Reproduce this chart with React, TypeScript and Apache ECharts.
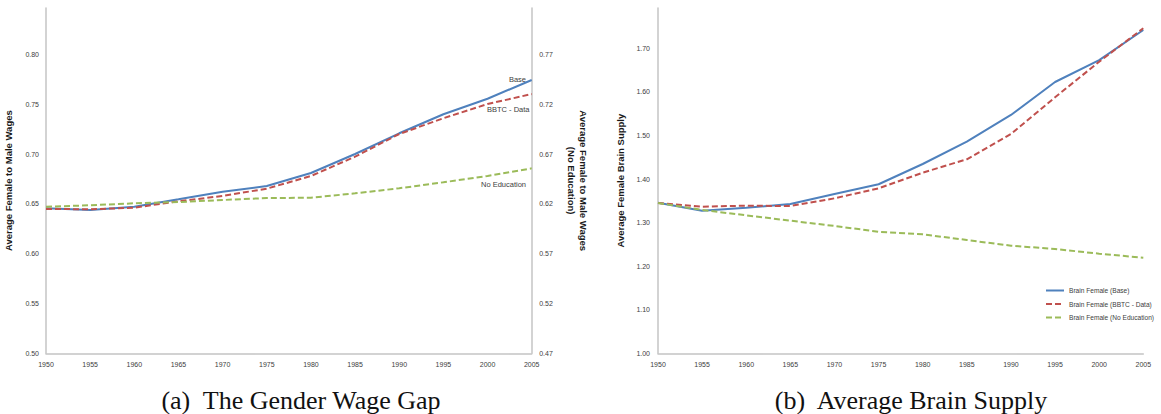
import React, { useEffect, useRef } from "react";
import * as echarts from "echarts";

const years = ["1950", "1955", "1960", "1965", "1970", "1975", "1980", "1985", "1990", "1995", "2000", "2005"];

// Panel (a): The Gender Wage Gap
const wageBase = [0.6456, 0.6439, 0.6472, 0.6546, 0.6622, 0.668, 0.681, 0.7001, 0.7209, 0.740, 0.7556, 0.7744];
const wageBBTC = [0.645, 0.6446, 0.6462, 0.6526, 0.658, 0.6653, 0.678, 0.6974, 0.7202, 0.736, 0.7503, 0.7603];
const wageNoEdu = [0.6172, 0.6186, 0.6206, 0.6219, 0.6239, 0.6259, 0.6262, 0.6306, 0.6357, 0.6417, 0.648, 0.6557];

// Panel (b): Average Brain Supply
const brainBase = [1.3457, 1.3273, 1.334, 1.3427, 1.3656, 1.388, 1.4345, 1.4857, 1.547, 1.6227, 1.673, 1.742];
const brainBBTC = [1.345, 1.3365, 1.3388, 1.338, 1.3557, 1.3787, 1.4145, 1.4453, 1.5033, 1.5876, 1.6693, 1.746];
const brainNoEdu = [1.345, 1.329, 1.3167, 1.3044, 1.2922, 1.279, 1.273, 1.26, 1.247, 1.2394, 1.2286, 1.2194];

const legendNames = ["Brain Female (Base)", "Brain Female (BBTC - Data)", "Brain Female (No Education)"];
const captions = ["(a)  The Gender Wage Gap", "(b)  Average Brain Supply"];

const BLUE = "#4F81BD";
const RED = "#C0504D";
const GREEN = "#9BBB59";
const AXIS = "#C4C4C4";
const LABEL = "#404040";
const FONT = "Liberation Sans";

const labelEvery = (base: number, step: number) => (v: number) => {
  const k = (v - base) / step;
  return Math.abs(k - Math.round(k)) < 1e-6 ? v.toFixed(2) : "";
};

export default function App() {
  const ref = useRef<HTMLDivElement>(null);
  useEffect(() => {
    document.body.style.margin = "0";
    const chart = echarts.init(ref.current!, null, { renderer: "svg" });
    const axisLine = { show: true, lineStyle: { color: AXIS, width: 1.5 } };
    const xAxisCommon = {
      type: "category" as const,
      data: years,
      boundaryGap: false,
      axisLine,
      axisTick: { show: false },
      splitLine: { show: false },
      axisLabel: { color: LABEL, fontSize: 7, fontFamily: FONT, margin: 8, interval: 0 },
    };
    const yLabel = { color: LABEL, fontSize: 7, fontFamily: FONT };
    const nameStyle = { color: "#1a1a1a", fontSize: 9.5, fontWeight: "bold" as const, fontFamily: FONT };
    const lineSeries = (name: string, data: number[], color: string, dashed: boolean, xi: number, yi: number) => ({
      type: "line" as const,
      name,
      data,
      xAxisIndex: xi,
      yAxisIndex: yi,
      symbol: "none",
      smooth: false,
      lineStyle: { color, width: 2, type: dashed ? [6, 3] : "solid" },
      itemStyle: { color },
    });
    chart.setOption({
      animation: false,
      backgroundColor: "#ffffff",
      grid: [
        { left: 46, top: 8, width: 485.7, height: 345.3, outerBoundsMode: "none" },
        { left: 658, top: 8, width: 485.3, height: 345.3, outerBoundsMode: "none" },
      ],
      xAxis: [
        { ...xAxisCommon, gridIndex: 0 },
        { ...xAxisCommon, gridIndex: 1 },
      ],
      yAxis: [
        {
          type: "value",
          gridIndex: 0,
          position: "left",
          min: 0.5,
          max: 0.8467,
          interval: 0.05,
          axisLine,
          axisTick: { show: false },
          splitLine: { show: false },
          axisLabel: { ...yLabel, margin: 7, formatter: labelEvery(0.5, 0.05) },
          name: "Average Female to Male Wages",
          nameLocation: "middle",
          nameRotate: 90,
          nameGap: 33,
          nameTextStyle: nameStyle,
        },
        {
          type: "value",
          gridIndex: 0,
          position: "right",
          min: 0.47,
          max: 0.8167,
          interval: 0.01,
          axisLine,
          axisTick: { show: false },
          splitLine: { show: false },
          axisLabel: { ...yLabel, margin: 7.5, formatter: labelEvery(0.47, 0.05) },
          name: "Average Female to Male Wages\n(No Education)",
          nameLocation: "middle",
          nameRotate: -90,
          nameGap: 34,
          nameTextStyle: { ...nameStyle, lineHeight: 12 },
        },
        {
          type: "value",
          gridIndex: 1,
          position: "left",
          min: 1.0,
          max: 1.7925,
          interval: 0.1,
          axisLine,
          axisTick: { show: false },
          splitLine: { show: false },
          axisLabel: { ...yLabel, margin: 8, formatter: labelEvery(1.0, 0.1) },
          name: "Average Female Brain Supply",
          nameLocation: "middle",
          nameRotate: 90,
          nameGap: 33,
          nameTextStyle: nameStyle,
        },
      ],
      legend: {
        data: legendNames,
        orient: "vertical",
        left: 1045,
        top: 287,
        padding: 0,
        itemWidth: 18,
        itemHeight: 8,
        itemGap: 6.5,
        itemStyle: { opacity: 0, borderWidth: 0 },
        textStyle: { color: LABEL, fontSize: 6.6, fontFamily: FONT },
      },
      series: [
        lineSeries("Base", wageBase, BLUE, false, 0, 0),
        lineSeries("BBTC - Data", wageBBTC, RED, true, 0, 0),
        lineSeries("No Education", wageNoEdu, GREEN, true, 0, 1),
        lineSeries(legendNames[0], brainBase, BLUE, false, 1, 2),
        lineSeries(legendNames[1], brainBBTC, RED, true, 1, 2),
        lineSeries(legendNames[2], brainNoEdu, GREEN, true, 1, 2),
      ],
      graphic: [
        { type: "text", x: 526, y: 79, style: { text: "Base", fill: LABEL, fontSize: 7.5, fontFamily: FONT, align: "right", verticalAlign: "middle" } },
        { type: "text", x: 529.5, y: 109.5, style: { text: "BBTC - Data", fill: LABEL, fontSize: 7.5, fontFamily: FONT, align: "right", verticalAlign: "middle" } },
        { type: "text", x: 526, y: 184, style: { text: "No Education", fill: LABEL, fontSize: 7.5, fontFamily: FONT, align: "right", verticalAlign: "middle" } },
        { type: "text", x: 301, y: 400, style: { text: captions[0], fill: "#111", fontSize: 26, fontFamily: "Liberation Serif", align: "center", verticalAlign: "middle" } },
        { type: "text", x: 911, y: 400, style: { text: captions[1], fill: "#111", fontSize: 26, fontFamily: "Liberation Serif", align: "center", verticalAlign: "middle" } },
      ],
    });
    return () => chart.dispose();
  }, []);
  return <div ref={ref} style={{ width: 1161, height: 414 }} />;
}
